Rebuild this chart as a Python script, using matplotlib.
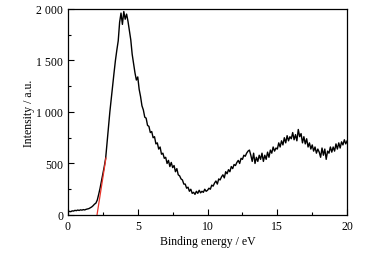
import numpy as np
import matplotlib
matplotlib.use('Agg')
import matplotlib.pyplot as plt
from matplotlib.ticker import MultipleLocator, FuncFormatter

plt.rcParams['font.family'] = ['Liberation Serif', 'DejaVu Serif']

# ── Data (0.1 eV steps) ─────────────────────────────────────
energy = np.round(np.arange(0, 20.01, 0.1), 2)
intensity = [
    30, 35, 32, 40, 38, 45, 42, 48, 44, 50,
    47, 52, 49, 55, 58, 62, 70, 78, 90, 105,
    115, 145, 200, 260, 330, 400, 470, 550, 700, 850,
    1000, 1130, 1260, 1380, 1500, 1600, 1690, 1870, 1960, 1850,
    1975, 1900, 1950, 1880, 1790, 1700, 1560, 1470, 1380, 1310,
    1340, 1220, 1150, 1060, 1020, 950, 940, 870, 860, 800,
    810, 750, 760, 690, 700, 640, 660, 590, 600, 550,
    560, 500, 530, 470, 510, 460, 480, 420, 450, 390,
    380, 350, 340, 300, 300, 260, 270, 230, 250, 210,
    220, 200, 230, 210, 240, 215, 230, 220, 250, 230,
    240, 260, 250, 290, 280, 310, 330, 300, 350, 340,
    370, 390, 360, 420, 400, 440, 420, 470, 450, 490,
    480, 510, 530, 500, 550, 540, 580, 570, 600, 620,
    630, 580, 520, 600, 500, 560, 520, 580, 540, 600,
    520, 580, 540, 610, 560, 630, 600, 660, 620, 650,
    640, 700, 660, 720, 680, 750, 700, 770, 720, 760,
    740, 800, 730, 780, 720, 830, 760, 790, 700, 760,
    690, 740, 660, 700, 640, 680, 620, 660, 600, 640,
    610, 560, 650, 580, 640, 540, 620, 600, 660, 610,
    660, 620, 690, 640, 700, 650, 710, 680, 730, 690,
    720,
]
fit_x = [2.08, 2.72]
fit_y = [0, 553]

# ── Plot ────────────────────────────────────────────────────
fig = plt.figure(figsize=(3.84, 2.55), dpi=100)
ax = fig.add_axes([0.177, 0.153, 0.727, 0.808])
ax.plot(energy, intensity, color='black', lw=1.0)
ax.plot(fit_x, fit_y, color='#e8342a', lw=0.9)

ax.set_xlim(0, 20)
ax.set_ylim(0, 2000)
ax.xaxis.set_major_locator(MultipleLocator(5))
ax.xaxis.set_minor_locator(MultipleLocator(2.5))
ax.yaxis.set_major_locator(MultipleLocator(500))
ax.yaxis.set_minor_locator(MultipleLocator(250))
ax.yaxis.set_major_formatter(FuncFormatter(
    lambda v, p: f'{int(v):,}'.replace(',', ' ')))
ax.tick_params(which='both', direction='in', labelsize=8.5, width=0.8)
ax.tick_params(which='major', length=4)
ax.tick_params(which='minor', length=2.5)
for s in ax.spines.values():
    s.set_linewidth(0.9)

ax.set_xlabel('Binding energy / eV', fontsize=8.5, labelpad=2)
ax.set_ylabel('Intensity / a.u.', fontsize=8.5, labelpad=1)

plt.savefig('out.png', dpi=100)
plt.close()
